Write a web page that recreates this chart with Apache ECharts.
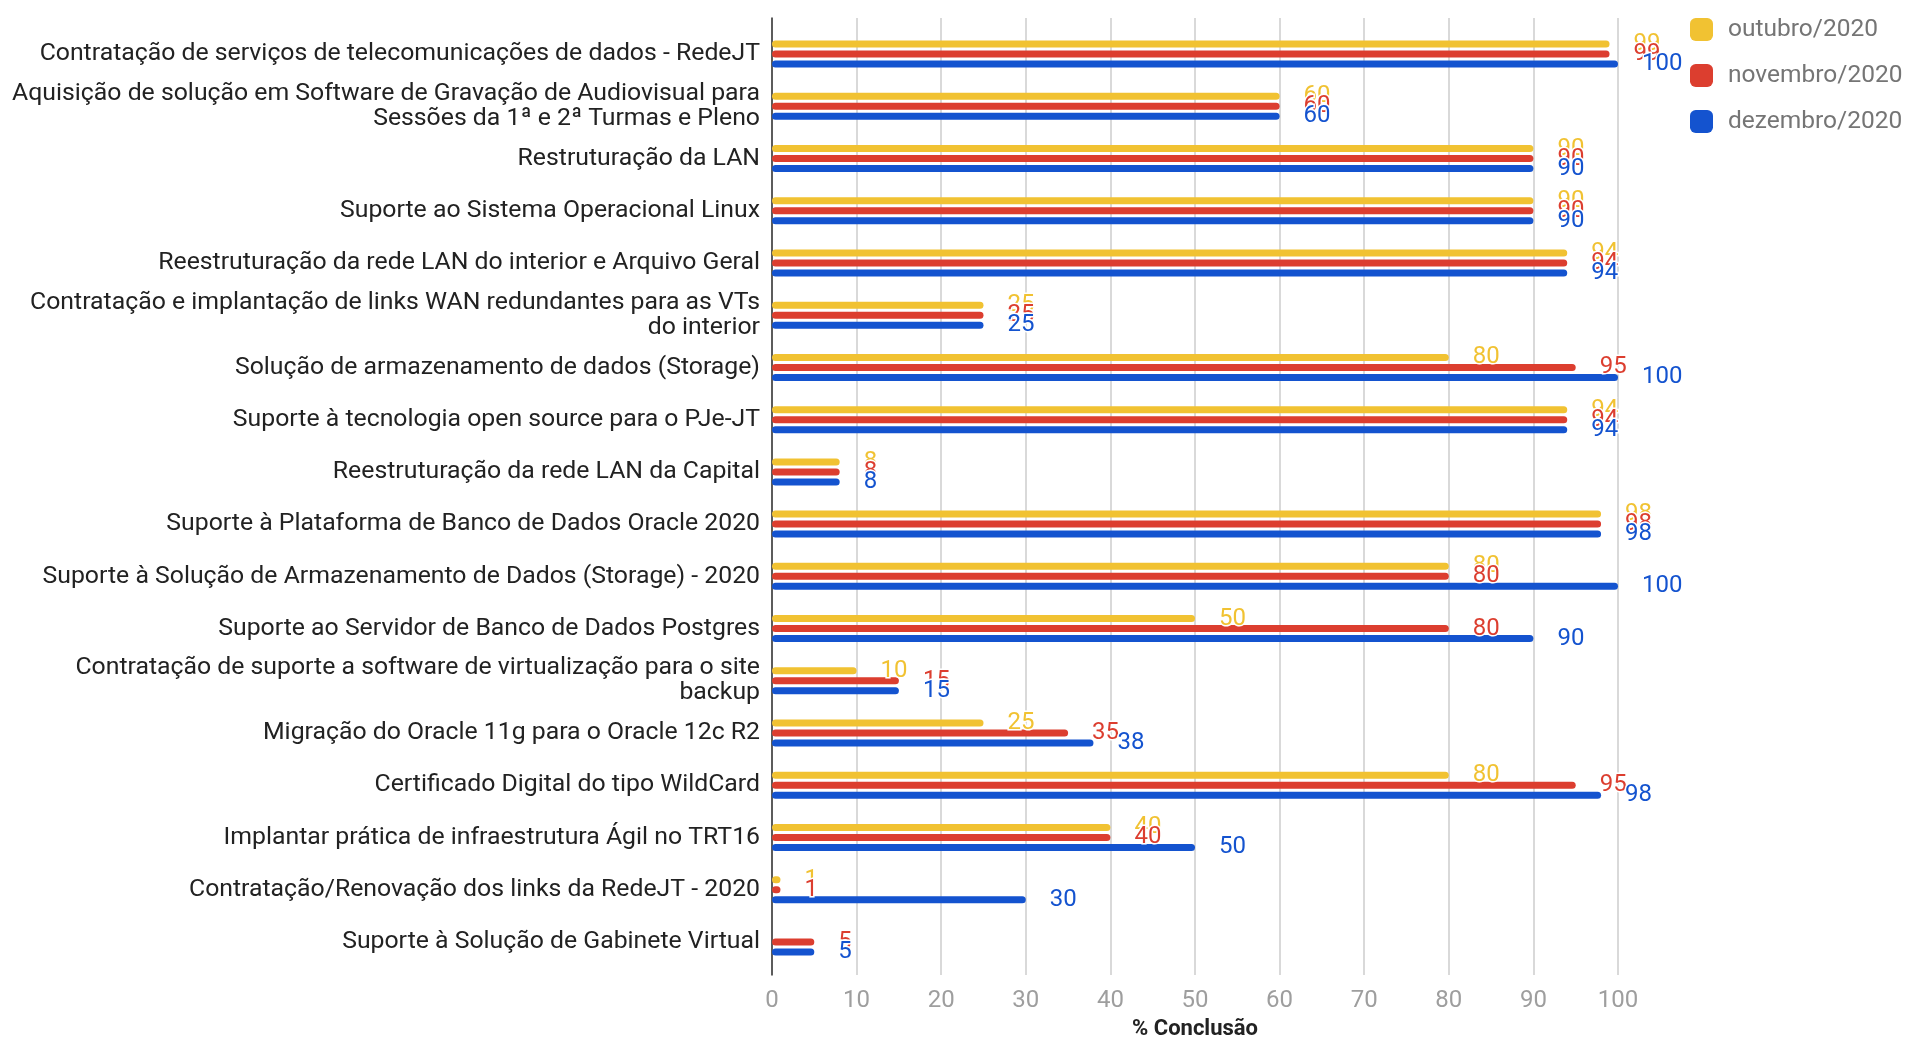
<!DOCTYPE html>
<html>
<head>
<meta charset="utf-8">
<script src="https://cdn.jsdelivr.net/npm/echarts@6/dist/echarts.min.js"></script>
<style>
html, body { margin: 0; padding: 0; background: #fff; }
#barChart { width: 1909px; height: 1038px; }
</style>
</head>
<body>
<div id="barChart"></div>
<script>
var categories = [
    'Contratação de serviços de telecomunicações de dados - RedeJT',
    'Aquisição de solução em Software de Gravação de Audiovisual para\nSessões da 1ª e 2ª Turmas e Pleno',
    'Restruturação da LAN',
    'Suporte ao Sistema Operacional Linux',
    'Reestruturação da rede LAN do interior e Arquivo Geral',
    'Contratação e implantação de links WAN redundantes para as VTs\ndo interior',
    'Solução de armazenamento de dados (Storage)',
    'Suporte à tecnologia open source para o PJe-JT',
    'Reestruturação da rede LAN da Capital',
    'Suporte à Plataforma de Banco de Dados Oracle 2020',
    'Suporte à Solução de Armazenamento de Dados (Storage) - 2020',
    'Suporte ao Servidor de Banco de Dados Postgres',
    'Contratação de suporte a software de virtualização para o site\nbackup',
    'Migração do Oracle 11g para o Oracle 12c R2',
    'Certificado Digital do tipo WildCard',
    'Implantar prática de infraestrutura Ágil no TRT16',
    'Contratação/Renovação dos links da RedeJT - 2020',
    'Suporte à Solução de Gabinete Virtual'
];
var outubro = [99, 60, 90, 90, 94, 25, 80, 94, 8, 98, 80, 50, 10, 25, 80, 40, 1, null];
var novembro = [99, 60, 90, 90, 94, 25, 95, 94, 8, 98, 80, 80, 15, 35, 95, 40, 1, 5];
var dezembro = [100, 60, 90, 90, 94, 25, 100, 94, 8, 98, 100, 90, 15, 38, 98, 50, 30, 5];
var seriesNames = ['outubro/2020', 'novembro/2020', 'dezembro/2020'];
var xTicks = [0, 10, 20, 30, 40, 50, 60, 70, 80, 90, 100];

var colors = ['#F1C232', '#DC3E2F', '#1453CF'];
var myChart = echarts.init(document.getElementById('barChart'));

function makeSeries(name, data, idx) {
    return {
        name: name,
        type: 'bar',
        xAxisIndex: 1,
        yAxisIndex: 1,
        data: data,
        barWidth: 7,
        barGap: '43%',
        itemStyle: { color: colors[idx], borderRadius: 3.5 },
        label: {
            show: true,
            position: 'right',
            distance: 24,
            fontFamily: 'Roboto',
            fontSize: 24,
            color: colors[idx],
            textBorderColor: '#fff',
            textBorderWidth: 3
        }
    };
}

var option = {
    color: colors,
    animation: false,
    textStyle: { fontFamily: 'Roboto' },
    legend: {
        orient: 'vertical',
        left: 1690,
        top: 17,
        padding: 0,
        itemWidth: 23,
        itemHeight: 23,
        itemGap: 21,
        icon: 'roundRect',
        data: seriesNames,
        textStyle: { fontFamily: 'Roboto', fontSize: 24.5, color: '#757575', padding: [0, 0, 0, 10] }
    },
    grid: [
        { left: 772, right: 291, top: 18, bottom: 63, outerBoundsMode: 'none' },
        { left: 772, right: 291, top: 28, bottom: 70, outerBoundsMode: 'none' }
    ],
    xAxis: [
        {
            gridIndex: 0,
            type: 'value',
            min: xTicks[0],
            max: xTicks[xTicks.length - 1],
            interval: 10,
            axisLine: { show: false },
            axisTick: { show: false },
            splitLine: { lineStyle: { color: '#cccccc', width: 1.5 } },
            axisLabel: { fontFamily: 'Roboto', fontSize: 24, color: '#9e9e9e', margin: 14 },
            name: '% Conclusão',
            nameLocation: 'middle',
            nameGap: 43,
            nameTextStyle: { fontFamily: 'Roboto', fontSize: 22, fontWeight: 'bold', color: '#222' }
        },
        {
            gridIndex: 1,
            type: 'value',
            min: 0,
            max: 100,
            show: false
        }
    ],
    yAxis: [
        {
            gridIndex: 0,
            type: 'category',
            data: [''],
            axisLine: { show: true, lineStyle: { color: '#333', width: 1.5 } },
            axisTick: { show: false },
            axisLabel: { show: false }
        },
        {
            gridIndex: 1,
            type: 'category',
            inverse: true,
            data: categories,
            axisLine: { show: false },
            axisTick: { show: false },
            axisLabel: {
                fontFamily: 'Roboto',
                fontSize: 24.8,
                color: '#222',
                margin: 12,
                lineHeight: 25
            }
        }
    ],
    series: [
        makeSeries(seriesNames[0], outubro, 0),
        makeSeries(seriesNames[1], novembro, 1),
        makeSeries(seriesNames[2], dezembro, 2)
    ]
};

if (option && typeof option === 'object') {
    myChart.setOption(option, true);
}
</script>
</body>
</html>
